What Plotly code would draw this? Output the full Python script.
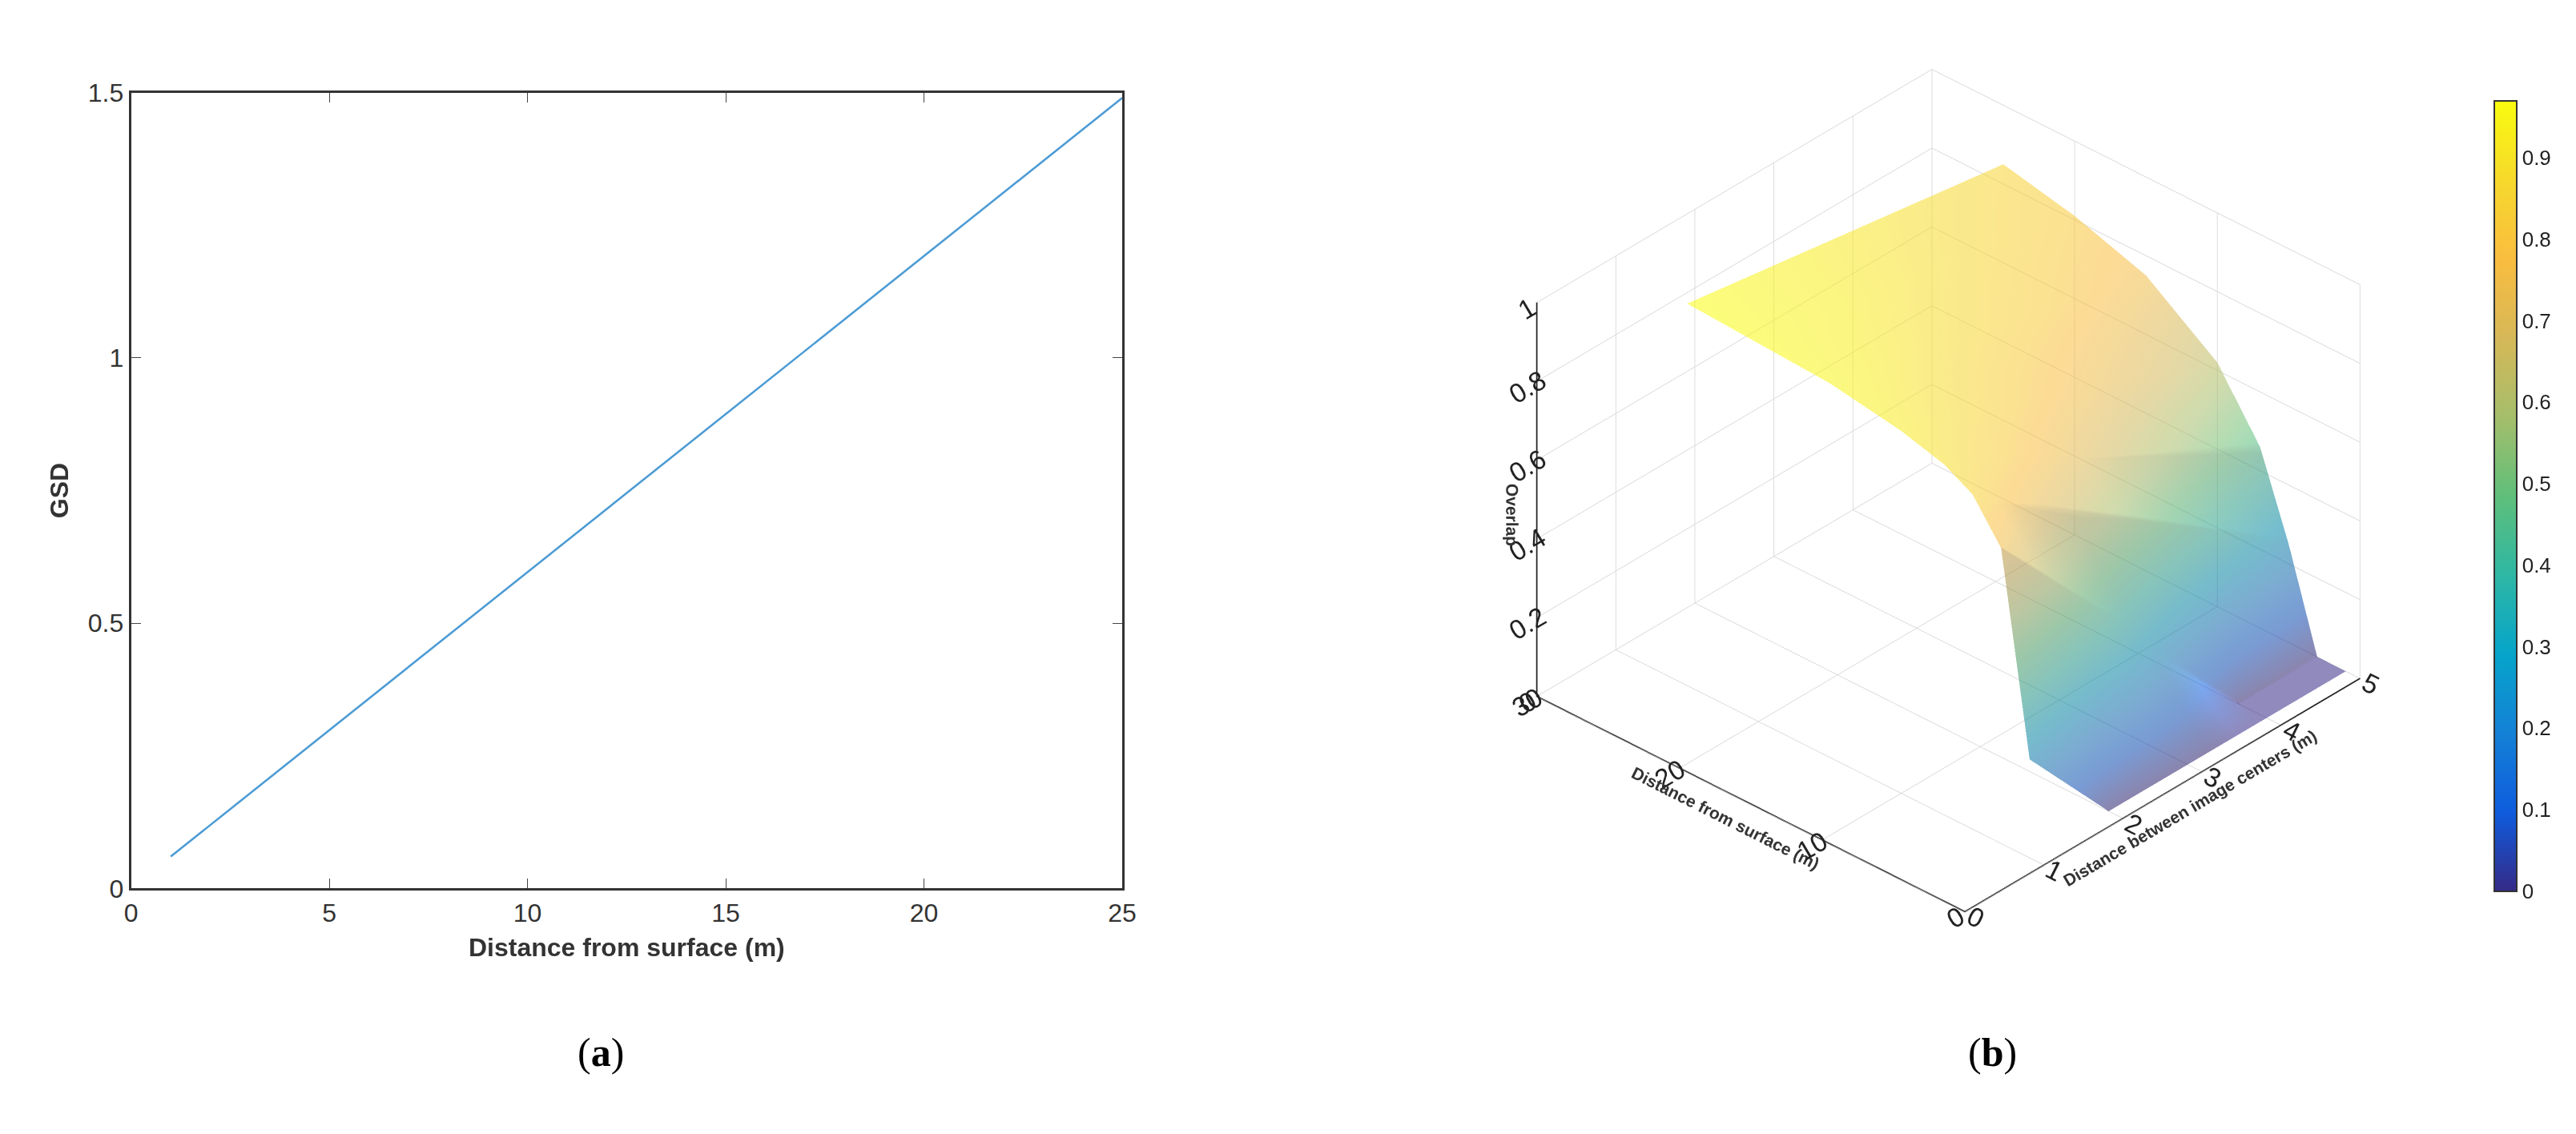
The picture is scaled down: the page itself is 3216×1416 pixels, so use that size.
import plotly.graph_objects as go

# (a) GSD vs distance from surface
gsd_dist = [1, 25]
gsd_vals = [0.06, 1.49]

# (b) overlap surface
centers = [1, 2, 3, 4, 5]
surf_dist = [1, 3, 5, 7, 10, 15, 20, 25]
overlap = [
    [0.25, 0.00, 0.00, 0.00, 0.00],
    [0.75, 0.50, 0.25, 0.00, 0.00],
    [0.85, 0.70, 0.55, 0.40, 0.25],
    [0.89, 0.79, 0.68, 0.57, 0.46],
    [0.92, 0.85, 0.77, 0.70, 0.62],
    [0.95, 0.90, 0.85, 0.80, 0.75],
    [0.96, 0.93, 0.89, 0.85, 0.81],
    [0.97, 0.94, 0.91, 0.88, 0.85],
]

parula = [
    [0.0, "#352a87"], [0.1, "#0f5cdd"], [0.2, "#1481d6"], [0.3, "#06a4ca"],
    [0.4, "#2eb7a4"], [0.5, "#5fbf7a"], [0.6, "#a5be6b"], [0.7, "#d6b858"],
    [0.8, "#f9bd3f"], [0.9, "#f6d92c"], [1.0, "#f9fb0e"],
]

font = dict(family="Liberation Sans, Arial", size=32, color="#333333")

fig = go.Figure()
fig.add_trace(go.Scatter(x=gsd_dist, y=gsd_vals, mode="lines",
                         line=dict(color="#4a9ad4", width=2.5), showlegend=False))

fig.add_trace(go.Surface(
    x=centers, y=surf_dist, z=overlap, colorscale=parula, cmin=0, cmax=0.97,
    opacity=0.55, showscale=True,
    colorbar=dict(x=0.968, xanchor="left", y=0.57, len=0.73, thickness=28,
                  tickvals=[0, 0.1, 0.2, 0.3, 0.4, 0.5, 0.6, 0.7, 0.8, 0.9],
                  tickfont=dict(family="Liberation Sans, Arial", size=26, color="#222"),
                  outlinecolor="#333", outlinewidth=2),
    scene="scene",
))

ax3 = dict(showbackground=False, gridcolor="#d8d8d8", linecolor="#222", linewidth=4,
           tickfont=dict(family="Liberation Sans, Arial", size=20, color="#222"),
           zeroline=False, showspikes=False)

fig.update_layout(
    width=3216, height=1416, paper_bgcolor="white", plot_bgcolor="white",
    font=font, margin=dict(l=0, r=0, t=0, b=0),
    xaxis=dict(domain=[0.046, 0.434], range=[0, 25], tickvals=[0, 5, 10, 15, 20, 25],
               title=dict(text="<b>Distance from surface (m)</b>", font=dict(size=32)),
               showline=True, mirror="ticks", linecolor="#333", linewidth=3,
               ticks="inside", ticklen=12, showgrid=False, zeroline=False),
    yaxis=dict(domain=[0.215, 0.935], range=[0, 1.5], tickvals=[0, 0.5, 1, 1.5],
               title=dict(text="<b>GSD</b>", font=dict(size=32)),
               showline=True, mirror="ticks", linecolor="#333", linewidth=3,
               ticks="inside", ticklen=12, showgrid=False, zeroline=False),
    scene=dict(
        domain=dict(x=[0.55, 0.965], y=[0.15, 1.0]),
        xaxis=dict(ax3, range=[0, 5], tickvals=[0, 1, 2, 3, 4, 5],
                   title=dict(text="<b>Distance between image centers (m)</b>", font=dict(size=21))),
        yaxis=dict(ax3, range=[0, 30], tickvals=[0, 10, 20, 30],
                   title=dict(text="<b>Distance from surface (m)</b>", font=dict(size=21))),
        zaxis=dict(ax3, range=[0, 1], tickvals=[0, 0.2, 0.4, 0.6, 0.8, 1],
                   title=dict(text="<b>Overlap</b>", font=dict(size=21))),
        aspectmode="manual", aspectratio=dict(x=1.24, y=1.24, z=1.0),
        camera=dict(eye=dict(x=-1.04, y=-0.96, z=0.92), projection=dict(type="orthographic")),
    ),
    annotations=[
        dict(text="(<b>a</b>)", x=0.22, y=0.045, xref="paper", yref="paper",
             showarrow=False, font=dict(family="Liberation Serif", size=50, color="black")),
        dict(text="(<b>b</b>)", x=0.785, y=0.045, xref="paper", yref="paper",
             showarrow=False, font=dict(family="Liberation Serif", size=50, color="black")),
    ],
)

fig.write_html("out.html")
